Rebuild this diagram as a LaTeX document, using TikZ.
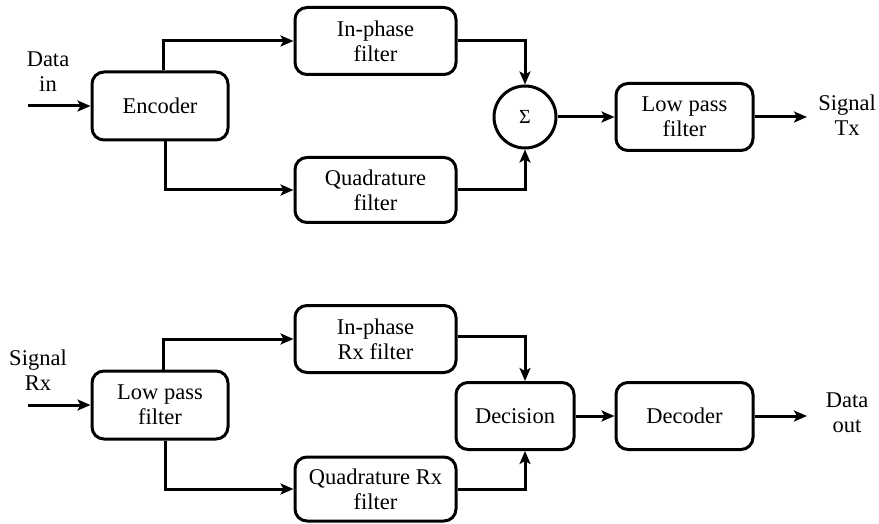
\documentclass[tikz,border=0pt]{standalone}
\usepackage{fontspec}
\setmainfont{Liberation Serif}
\newfontfamily\tmsfont{Liberation Serif}
\usetikzlibrary{arrows.meta}
\begin{document}
\begin{tikzpicture}[x=1pt,y=-1pt,
  every node/.style={font=\tmsfont\fontsize{22.5}{25}\selectfont, align=center, inner sep=0pt},
  blk/.style={draw, line width=3pt, rounded corners=12pt},
  sumc/.style={draw, circle, line width=3pt, minimum size=62pt, font=\tmsfont\fontsize{20}{22}\selectfont},
  conn/.style={line width=3pt, -{Stealth[length=13pt,width=11pt,inset=3pt]}},
  lbl/.style={}]
\useasboundingbox (0,0) rectangle (879,524);
% transmitter
\node[blk, minimum width=136pt, minimum height=68pt] (enc) at (160,106) {Encoder};
\node[blk, minimum width=161pt, minimum height=67pt] (ip) at (375.5,41) {In-phase\\filter};
\node[blk, minimum width=161pt, minimum height=65pt] (qf) at (375.5,190) {Quadrature\\filter};
\node[sumc] (sum) at (525,117) {Σ};
\node[blk, minimum width=137pt, minimum height=67pt] (lpf) at (684.5,117) {Low pass\\filter};
\node[lbl] (din) at (48,72) {Data\\in};
\node[lbl] (stx) at (847,115) {Signal\\Tx};
\coordinate (dinp) at (28,106);
\coordinate (stxp) at (807,117);
\draw[conn] (dinp) -- (enc.west);
\draw[conn] ([xshift=3pt]enc.north) |- (ip.west);
\draw[conn] ([xshift=5pt]enc.south) |- (qf.west);
\draw[conn] (ip.east) -| (sum.north);
\draw[conn] (qf.east) -| (sum.south);
\draw[conn] (sum.east) -- (lpf.west);
\draw[conn] (lpf.east) -- (stxp);
% receiver
\node[blk, minimum width=136pt, minimum height=68pt] (lpr) at (160,405) {Low pass\\filter};
\node[blk, minimum width=161pt, minimum height=67pt] (ipr) at (375.5,339) {In-phase\\Rx filter};
\node[blk, minimum width=161pt, minimum height=64pt] (qr) at (375.5,489) {Quadrature Rx\\filter};
\node[blk, minimum width=118pt, minimum height=67pt] (dec) at (515,416) {Decision};
\node[blk, minimum width=137pt, minimum height=67pt] (dcd) at (684.5,416) {Decoder};
\node[lbl] (srx) at (38,370) {Signal\\Rx};
\node[lbl] (dout) at (847,413) {Data\\out};
\coordinate (srxp) at (28,405);
\coordinate (doutp) at (807,416);
\draw[conn] (srxp) -- (lpr.west);
\draw[conn] ([xshift=3pt]lpr.north) |- (ipr.west);
\draw[conn] ([xshift=5pt]lpr.south) |- (qr.west);
\draw[conn] ([yshift=3pt]ipr.east) -| ([xshift=10pt]dec.north);
\draw[conn] (qr.east) -| ([xshift=10pt]dec.south);
\draw[conn] (dec.east) -- (dcd.west);
\draw[conn] (dcd.east) -- (doutp);
\end{tikzpicture}
\end{document}
